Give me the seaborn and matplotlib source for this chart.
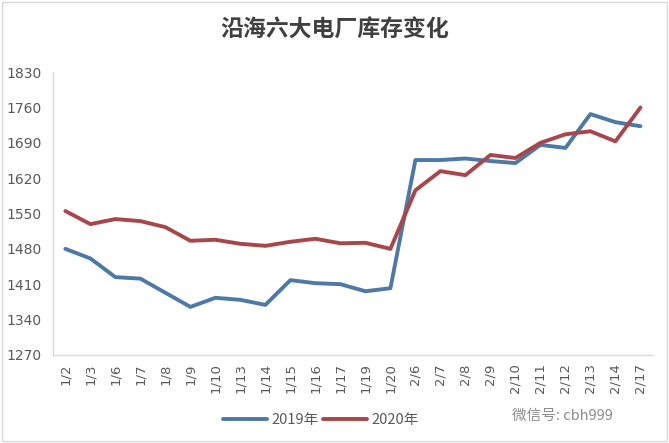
import numpy as np
import pandas as pd
import matplotlib
matplotlib.use("Agg")
from matplotlib import pyplot as plt
from matplotlib.patches import Rectangle
import seaborn as sns

# Data
dates = ["1/2", "1/3", "1/6", "1/7", "1/8", "1/9", "1/10", "1/13", "1/14", "1/15",
         "1/16", "1/17", "1/19", "1/20", "2/6", "2/7", "2/8", "2/9", "2/10", "2/11",
         "2/12", "2/13", "2/14", "2/17"]
stock_2019 = [1480, 1461, 1424, 1421, 1393, 1365, 1383, 1379, 1369, 1418,
              1412, 1410, 1396, 1402, 1656, 1656, 1659, 1654, 1650, 1686,
              1680, 1747, 1731, 1723]
stock_2020 = [1555, 1529, 1539, 1535, 1523, 1496, 1498, 1490, 1486, 1494,
              1500, 1491, 1492, 1480, 1596, 1634, 1626, 1666, 1660, 1690,
              1707, 1713, 1693, 1760]
y_ticks = list(range(1270, 1831, 70))

df = pd.DataFrame({
    "date": dates * 2,
    "x": list(range(len(dates))) * 2,
    "value": stock_2019 + stock_2020,
    "year": ["2019年"] * len(dates) + ["2020年"] * len(dates),
})

sns.set_style("white")
plt.rcParams["font.family"] = ["Noto Sans CJK SC", "DejaVu Sans"]

fig = plt.figure(figsize=(6.69, 4.43), dpi=100)
ax = fig.add_axes([0.079, 0.199, 0.897, 0.638])

palette = {"2019年": "#4e79a7", "2020年": "#a8474b"}
sns.lineplot(data=df, x="x", y="value", hue="year", palette=palette,
             linewidth=2.8, ax=ax, legend=True)

ax.set_xlim(-0.5, len(dates) - 0.5)
ax.set_ylim(1270, 1830)
ax.set_yticks(y_ticks)
ax.set_xticks(range(len(dates)))
ax.set_xticklabels(dates, rotation=90, fontsize=9.5, color="#595959", family="DejaVu Sans")
ax.set_yticklabels([str(v) for v in y_ticks], fontsize=10, color="#595959", family="DejaVu Sans")
ax.set_xlabel("")
ax.set_ylabel("")

# Excel-style dividers between categories
ax.set_xticks(np.arange(-0.5, len(dates), 1), minor=True)
ax.tick_params(axis="x", which="major", length=0, pad=6)
ax.tick_params(axis="x", which="minor", length=5, color="#d9d9d9", direction="out")
ax.tick_params(axis="y", length=4, color="#d9d9d9", direction="out", pad=4)

for s in ["top", "right"]:
    ax.spines[s].set_visible(False)
for s in ["left", "bottom"]:
    ax.spines[s].set_color("#d9d9d9")
    ax.spines[s].set_linewidth(1)

handles, labels = ax.get_legend_handles_labels()
ax.get_legend().remove()
leg = fig.legend(handles, labels, loc="center", bbox_to_anchor=(0.48, 0.052), ncol=2,
                 frameon=False, fontsize=10.5, handlelength=3.0, columnspacing=0.3,
                 handletextpad=0.3)
for t in leg.get_texts():
    t.set_color("#595959")

fig.text(0.5, 0.932, "沿海六大电厂库存变化", ha="center", va="center",
         fontsize=16.5, fontweight="bold", color="#404040")
fig.text(0.84, 0.062, "微信号: cbh999", ha="center", va="center",
         fontsize=10.5, color="#8c8c8c")

fig.patches.append(Rectangle((0.003, 0.005), 0.994, 0.99, transform=fig.transFigure,
                             fill=False, edgecolor="#d9d9d9", linewidth=1))

fig.savefig("out.png", dpi=100)
